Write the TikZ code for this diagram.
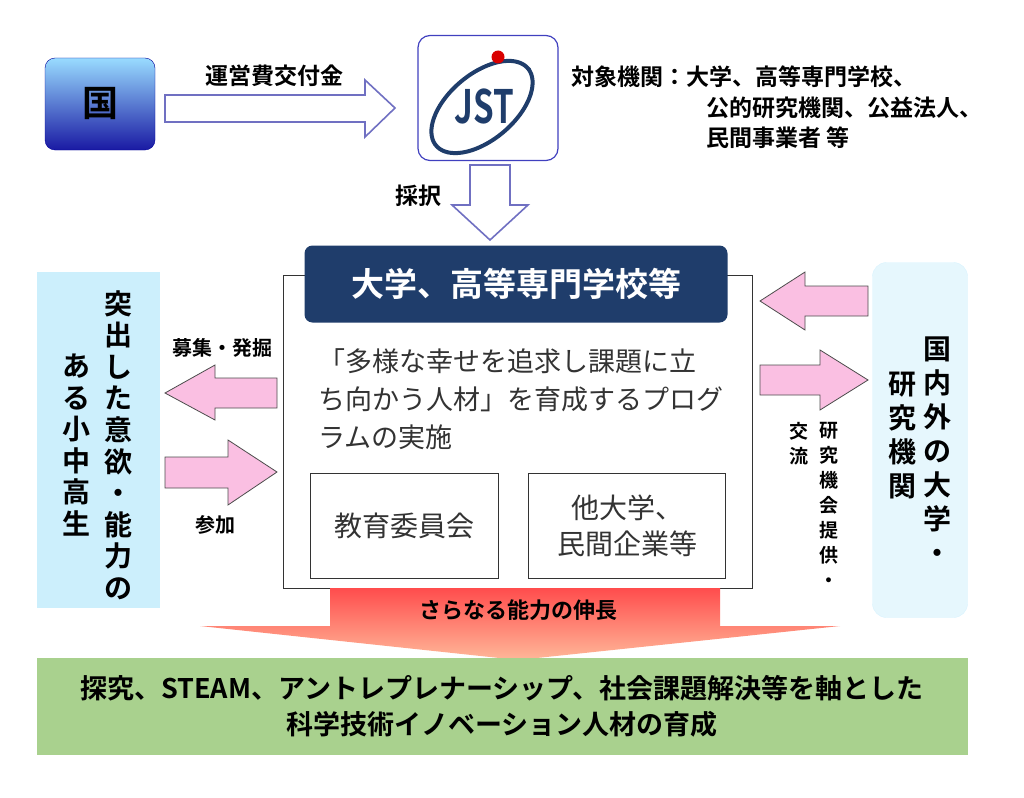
\documentclass[tikz,border=0pt]{standalone}
\usepackage{fontspec}
\setmainfont{Noto Sans CJK JP}[BoldFont={Noto Sans CJK JP Bold}]
\definecolor{hdr}{HTML}{1F3D6B}
\definecolor{grn}{HTML}{A9D18E}
\begin{document}
\begin{tikzpicture}[x=1pt,y=-1pt,
  lbl/.style={font=\bfseries\fontsize{23}{26}\selectfont},
  slbl/.style={font=\bfseries\fontsize{20}{24}\selectfont},
  hollow/.style={draw=blue!40!gray!80, line width=1.6pt, fill=white},
  pink/.style={draw=black!70, line width=0.8pt, fill=magenta!25!white},
  vcol/.style={align=center, inner sep=0pt}]
\useasboundingbox (0,0) rectangle (1024,797);
% Kuni
\node[draw=blue!60!black, rounded corners=10pt, minimum width=110, minimum height=92, top color=blue!35!cyan!40!white, bottom color=blue!60!black!90, font=\bfseries\fontsize{36}{40}\selectfont] (kuni) at (100,104) {国};
% arrow to JST
\draw[hollow] (165,95) -- (365,95) -- (365,80) -- (395,108) -- (365,137) -- (365,122) -- (165,122) -- cycle;
\node[lbl] (unei) at (274,76) {運営費交付金};
% JST
\node[draw=blue!50!gray, line width=1.2pt, rounded corners=12pt, minimum width=140, minimum height=125, fill=white] (jst) at (488,98) {};
\draw[hdr, line width=4pt] plot[domain=0:360, samples=72, smooth cycle, variable=\t]
  ({482 + 60*cos(\t)*cos(40) - 33*sin(\t)*sin(40)}, {107 - 60*cos(\t)*sin(40) - 33*sin(\t)*cos(40)});
\node[font=\bfseries\fontsize{46}{48}\selectfont, text=hdr, xscale=0.72] (jsttxt) at (484,106) {JST};
\fill[red!85!black] (498,57) circle (6.5);
\node[lbl, anchor=west] (taisho) at (568,77) {対象機関：大学、高等専門学校、};
\node[lbl, anchor=west] (t2) at (703,108) {公的研究機関、公益法人、};
\node[lbl, anchor=west] (t3) at (703,138) {民間事業者 等};
% down arrow
\draw[hollow] (470,165) -- (510,165) -- (510,205) -- (528,205) -- (490,240) -- (452,205) -- (470,205) -- cycle;
\node[lbl] (saitaku) at (418,196) {採択};
% main box
\draw[black!80, line width=1pt, fill=white] (283,275) rectangle (752,588);
\node[fill=hdr, rounded corners=8pt, minimum width=423, minimum height=77, text=white, font=\bfseries\fontsize{33}{36}\selectfont] (head) at (516,284) {大学、高等専門学校等};
\node[anchor=north west, align=left, inner sep=0pt, font=\fontsize{27}{38}\selectfont, text=black!80] (body) at (318,348) {「多様な幸せを追求し課題に立\\ち向かう人材」を育成するプログ\\ラムの実施};
\node[draw=black!80, line width=1pt, minimum width=188, minimum height=105, font=\fontsize{28}{30}\selectfont, text=black!80] (kyoiku) at (404,526) {教育委員会};
\node[draw=black!80, line width=1pt, minimum width=197, minimum height=105, align=center, font=\fontsize{28}{36}\selectfont, text=black!80] (ta) at (627,526) {他大学、\\民間企業等};
% left box
\node[fill=cyan!20!white, minimum width=123, minimum height=336] (left) at (98,440) {};
\node[vcol, font=\bfseries\fontsize{28}{31.5}\selectfont] (lc1) at (118,445) {突\\出\\し\\た\\意\\欲\\・\\能\\力\\の};
\node[vcol, font=\bfseries\fontsize{28}{31.5}\selectfont] (lc2) at (76,445) {あ\\る\\小\\中\\高\\生};
% pink arrows left
\draw[pink] (277,378) -- (215,378) -- (215,365) -- (165,393) -- (215,420) -- (215,408) -- (277,408) -- cycle;
\node[slbl] (boshu) at (222,348) {募集・発掘};
\draw[pink] (165,457) -- (228,457) -- (228,440) -- (277,472) -- (228,505) -- (228,488) -- (165,488) -- cycle;
\node[slbl] (sanka) at (215,525) {参加};
% right box
\node[fill=cyan!10!white, draw=cyan!15!white, rounded corners=14pt, minimum width=95, minimum height=355] (right) at (920,440) {};
\node[vcol, font=\bfseries\fontsize{28}{34}\selectfont] (rc1) at (937,450) {国\\内\\外\\の\\大\\学\\・};
\node[vcol, font=\bfseries\fontsize{28}{34}\selectfont] (rc2) at (902,436) {研\\究\\機\\関};
% pink arrows right
\draw[pink] (868,286) -- (805,286) -- (805,272) -- (760,301) -- (805,330) -- (805,316) -- (868,316) -- cycle;
\draw[pink] (760,365) -- (820,365) -- (820,350) -- (868,380) -- (820,410) -- (820,395) -- (760,395) -- cycle;
\node[vcol, anchor=north, font=\bfseries\fontsize{19}{25}\selectfont] (mc1) at (829,422) {研\\究\\機\\会\\提\\供\\・};
\node[vcol, anchor=north, font=\bfseries\fontsize{19}{25}\selectfont] (mc2) at (799,422) {交\\流};
% salmon arrow
\draw[draw=none, top color=red!70!white, bottom color=red!40!orange!40!white] (330,588) -- (720,588) -- (720,626) -- (840,626) -- (518,660) -- (200,626) -- (330,626) -- cycle;
\node[font=\bfseries\fontsize{22}{24}\selectfont] (sarani) at (518,610) {さらなる能力の伸長};
% green box
\node[fill=grn, minimum width=931, minimum height=97, align=center, font=\bfseries\fontsize{27}{36}\selectfont] (green) at (502,706) {探究、STEAM、アントレプレナーシップ、社会課題解決等を軸とした\\科学技術イノベーション人材の育成};
\end{tikzpicture}
\end{document}
